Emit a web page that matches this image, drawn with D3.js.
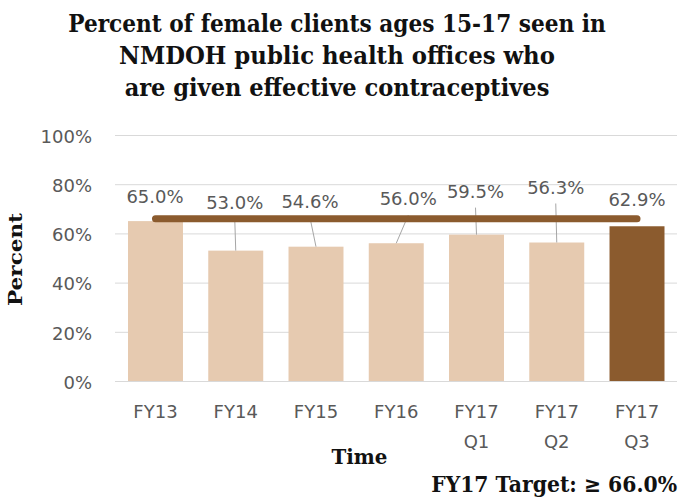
<!DOCTYPE html>
<html>
<head>
<meta charset="utf-8">
<script src="https://cdn.jsdelivr.net/npm/d3@7"></script>
<style>
  html, body { margin: 0; padding: 0; background: #ffffff; }
  svg { display: block; }
</style>
</head>
<body>
<svg id="chart" width="683" height="504"></svg>
<script>
// ---- data ----
const categories = ["FY13", "FY14", "FY15", "FY16", "FY17 Q1", "FY17 Q2", "FY17 Q3"];
const categoryLines = [["FY13"], ["FY14"], ["FY15"], ["FY16"], ["FY17", "Q1"], ["FY17", "Q2"], ["FY17", "Q3"]];
const values = [65.0, 53.0, 54.6, 56.0, 59.5, 56.3, 62.9];
const valueLabels = ["65.0%", "53.0%", "54.6%", "56.0%", "59.5%", "56.3%", "62.9%"];
const target = 66.0;
const yTicks = [0, 20, 40, 60, 80, 100];
const titleLines = [
  "Percent of female clients ages 15-17  seen in",
  "NMDOH public health offices who",
  "are given effective contraceptives"
];
const yTitle = "Percent";
const xTitle = "Time";
const targetText = "FY17 Target: \u2265 66.0%";
const currentPeriod = "FY17 Q3";

// ---- layout (label offsets relative to bar centre / bar top, px) ----
const labelOffsets = [[-0.5, -18], [-1, -42], [-6, -39], [12, -38], [-1, -37], [-1, -49], [0, -20]];
const leaderFor = [false, true, true, true, true, true, false];

const svg = d3.select("#chart");
const sans = "'DejaVu Sans', sans-serif";
const serif = "'DejaVu Serif', serif";
const light = "#E6CAB0", dark = "#8B5B2E", grey = "#595959";

const x = d3.scaleBand().domain(categories).range([115, 677.5]).paddingInner(0.315).paddingOuter(0.162);
const y = d3.scaleLinear().domain([0, 100]).range([381, 135]);

// helper: place a text centred/anchored at (px,py) and squeeze horizontally to a width
function fitText(g, str, px, py, width, anchor, size, rotate) {
  const t = g.append("text")
    .attr("text-anchor", anchor)
    .attr("font-family", serif).attr("font-weight", "bold").attr("font-size", size)
    .attr("fill", "#111").text(str);
  const len = t.node().getComputedTextLength();
  const s = width / len;
  t.attr("transform", `translate(${px},${py})` + (rotate ? ` rotate(${rotate})` : "") + ` scale(${s},1)`);
  return t;
}

// title
const tg = svg.append("g");
const titleWidths = [538, 436, 425];
titleLines.forEach((line, i) => fitText(tg, line, 337, 31.5 + i * 32, titleWidths[i], "middle", 23.5));

// y axis with gridlines
const yAxis = svg.append("g").attr("transform", "translate(115,0)")
  .call(d3.axisLeft(y).tickValues(yTicks).tickFormat(d => d + "%")
    .tickSizeInner(-562).tickSizeOuter(0).tickPadding(23));
yAxis.select(".domain").remove();
yAxis.selectAll(".tick line").attr("stroke", "#D9D9D9").attr("stroke-width", 1);
yAxis.selectAll(".tick text").attr("font-family", sans).attr("font-size", 18)
  .attr("fill", grey).attr("dy", "0.4em");

// bars
svg.append("g").selectAll("rect").data(values).join("rect")
  .attr("x", (d, i) => x(categories[i]))
  .attr("y", d => y(d))
  .attr("width", x.bandwidth())
  .attr("height", d => y(0) - y(d))
  .attr("fill", (d, i) => categories[i] === currentPeriod ? dark : light);

// leader lines
const cx = i => x(categories[i]) + x.bandwidth() / 2;
svg.append("g").selectAll("line").data(values.map((v, i) => i).filter(i => leaderFor[i])).join("line")
  .attr("x1", i => cx(i) + labelOffsets[i][0])
  .attr("y1", i => y(values[i]) + labelOffsets[i][1] + 10)
  .attr("x2", i => cx(i))
  .attr("y2", i => y(values[i]))
  .attr("stroke", "#A6A6A6").attr("stroke-width", 1);

// target line
svg.append("line")
  .attr("x1", cx(0)).attr("x2", cx(categories.length - 1))
  .attr("y1", y(target)).attr("y2", y(target))
  .attr("stroke", dark).attr("stroke-width", 7).attr("stroke-linecap", "round");

// data labels
svg.append("g").selectAll("text").data(values).join("text")
  .attr("x", (d, i) => cx(i) + labelOffsets[i][0])
  .attr("y", (d, i) => y(d) + labelOffsets[i][1])
  .attr("text-anchor", "middle")
  .attr("font-family", sans).attr("font-size", 18).attr("fill", grey)
  .text((d, i) => valueLabels[i]);

// x labels
const xl = svg.append("g").selectAll("text").data(categories).join("text")
  .attr("text-anchor", "middle")
  .attr("font-family", sans).attr("font-size", 18).attr("fill", grey);
xl.each(function (c, i) {
  d3.select(this).selectAll("tspan").data(categoryLines[i]).join("tspan")
    .attr("x", cx(i)).attr("y", (d, j) => 418 + j * 29.5).text(d => d);
});

// axis titles and target note
const ag = svg.append("g");
fitText(ag, yTitle, 22, 259.5, 93, "middle", 18, -90);
fitText(ag, xTitle, 359.5, 464, 56, "middle", 21);
fitText(ag, targetText, 677, 492, 246, "end", 22);
</script>
</body>
</html>
